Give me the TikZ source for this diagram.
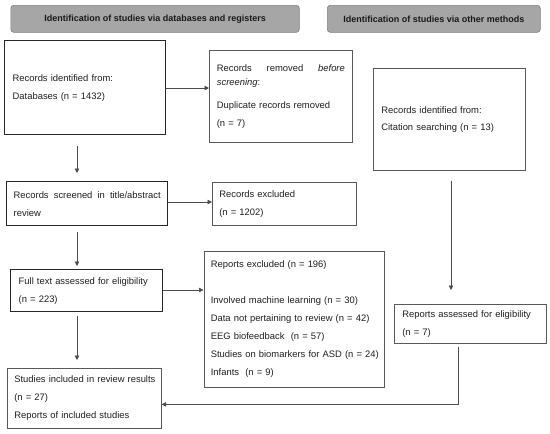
\documentclass[tikz,border=0pt]{standalone}
\usepackage{fontspec}
\setmainfont{Liberation Sans}
\usetikzlibrary{arrows.meta,calc}
\newcommand{\jline}[1]{\hbox to \linewidth{#1}}
\begin{document}
\begin{tikzpicture}[x=1pt,y=-1pt,
  txt/.style={font=\fontsize{9.4pt}{18pt}\selectfont, text=black!88},
  thickbox/.style={txt, draw=black!85, line width=1.4pt, anchor=north west, align=left, inner ysep=0pt},
  thinbox/.style={txt, draw=black!65, line width=0.7pt, anchor=north west, align=left, inner ysep=0pt},
  header/.style={draw=black!50, fill=black!35, line width=0.6pt, rounded corners=3pt, anchor=north west, inner sep=0pt,
    font=\fontsize{9pt}{11pt}\selectfont\bfseries, text=black!90},
  arr/.style={draw=black!70, line width=0.7pt, -{Triangle[length=4.5pt,width=4.5pt]}}
]
\useasboundingbox (0,0) rectangle (550,434);
\fill[white] (0,0) rectangle (550,434);

% headers
\node[header, minimum width=288.5pt, minimum height=27pt] (h1) at (10.5,5) {Identification of studies via databases and registers};
\node[header, minimum width=213pt, minimum height=27pt] (h2) at (327,5) {Identification of studies via other methods};

% boxes
\node[thickbox, inner xsep=8pt, text width=145pt, minimum height=94pt] (A) at (4,40)
  {\mbox{Records identified from:}\\\mbox{Databases (n = 1432)}};
\node[thinbox, inner xsep=7.5pt, text width=128pt, minimum height=92pt] (B) at (209,50)
  {\jline{Records\hfill removed\hfill \textit{before}}\\[-4pt]\textit{screening}:\\[5pt]\mbox{Duplicate records removed}\\(n = 7)};
\node[thinbox, inner xsep=8pt, text width=136pt, minimum height=102pt] (C) at (373,68)
  {\mbox{Records identified from:}\\[-1.5pt]\mbox{Citation searching (n = 13)}};
\node[thickbox, inner xsep=7pt, text width=147pt, minimum height=44pt] (D) at (6,181)
  {\jline{Records\hfill screened\hfill in\hfill title/abstract}\\review};
\node[thinbox, inner xsep=7pt, text width=130pt, minimum height=43pt] (E) at (212,182)
  {Records excluded\\(n = 1202)};
\node[thickbox, inner xsep=8pt, text width=136pt, minimum height=42pt] (F) at (10,269)
  {\mbox{Full text assessed for eligibility}\\(n = 223)};
\node[thinbox, inner xsep=7pt, text width=166pt, minimum height=136pt] (G) at (203.5,251)
  {\mbox{Reports excluded (n = 196)}\\[18pt]\mbox{Involved machine learning (n = 30)}\\\mbox{Data not pertaining to review (n = 42)}\\\mbox{EEG biofeedback~ (n = 57)}\\\mbox{Studies on biomarkers for ASD (n = 24)}\\\mbox{Infants~ (n = 9)}};
\node[thinbox, inner xsep=7pt, text width=140pt, minimum height=60pt] (H) at (7,368)
  {\mbox{Studies included in review results}\\(n = 27)\\\mbox{Reports of included studies}};
\node[thinbox, inner xsep=8pt, text width=136pt, minimum height=39pt] (I) at (394,304)
  {\mbox{Reports assessed for eligibility}\\(n = 7)};

% column coordinates
\coordinate (colL) at (77,0);
\coordinate (colC) at (451,0);
\coordinate (colR) at (458,0);

% connectors
\draw[arr] (A.east |- 0,88) -- (B.west |- 0,88);
\draw[arr] ($(A.south -| colL)+(0,11)$) -- ($(D.north -| colL)+(0,-8)$);
\draw[arr] (D.east |- 0,202) -- (E.west |- 0,202);
\draw[arr] ($(D.south -| colL)+(0,6)$) -- ($(F.north -| colL)+(0,-3)$);
\draw[arr] (F.east |- 0,290) -- (G.west |- 0,290);
\draw[arr] ($(F.south -| colL)+(0,4)$) -- ($(H.north -| colL)+(0,-8)$);
\draw[arr] ($(C.south -| colC)+(0,10)$) -- ($(I.north -| colC)+(0,-14)$);
\draw[arr] ($(I.south -| colR)+(0,3)$) |- ($(H.east)+(0,6)$);
\end{tikzpicture}
\end{document}
